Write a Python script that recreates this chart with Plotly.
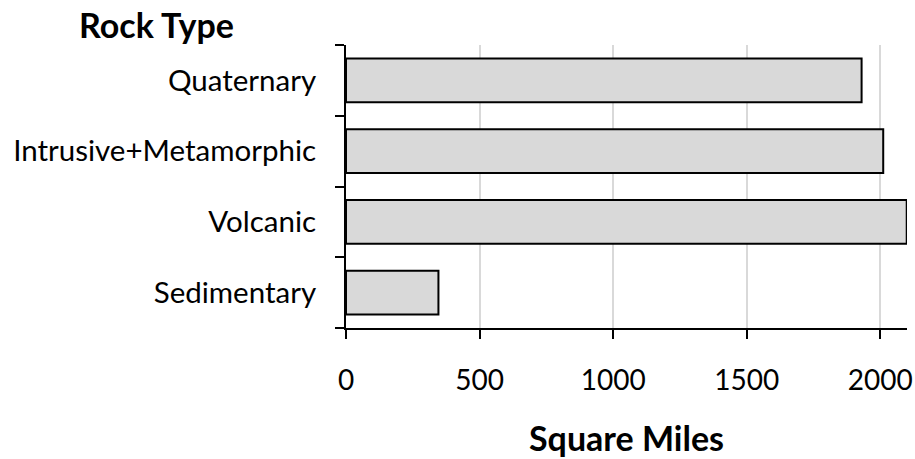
import plotly.graph_objects as go

categories = ["Sedimentary", "Volcanic", "Intrusive+Metamorphic", "Quaternary"]
square_miles = [346, 2099, 2011, 1930]
x_ticks = [0, 500, 1000, 1500, 2000]

FONT = "Lato"

W, H = 915, 459
L, R, T, B = 346, 8, 45, 131
plot_w = W - L - R
plot_h = H - T - B

fig = go.Figure()
fig.add_trace(go.Bar(
    x=square_miles, y=categories, orientation="h",
    marker=dict(color="#d9d9d9", line=dict(color="black", width=2)),
    width=0.62,
))

fig.update_layout(
    width=W, height=H,
    margin=dict(l=L, r=R, t=T, b=B, autoexpand=False),
    plot_bgcolor="white", paper_bgcolor="white",
    showlegend=False,
    font=dict(family=FONT, size=28, color="black"),
    xaxis=dict(
        range=[0, 2100], tickvals=x_ticks, ticktext=[str(v) for v in x_ticks],
        showgrid=True, gridcolor="#d9d9d9", gridwidth=1.5,
        showline=True, linecolor="black", linewidth=2,
        ticks="outside", ticklen=9, tickwidth=2, tickcolor="black",
        zeroline=False,
        ticklabelstandoff=17,
        tickfont=dict(size=28, family=FONT),
    ),
    yaxis=dict(
        categoryorder="array", categoryarray=categories,
        showline=True, linecolor="black", linewidth=2,
        ticks="outside", ticklen=9, tickwidth=2, tickcolor="black",
        tickson="boundaries", showgrid=False,
        ticklabelstandoff=22,
        tickfont=dict(size=29.5, family=FONT),
    ),
    annotations=[
        dict(text="<b>Rock Type</b>", xref="paper", yref="paper",
             x=(156 - L) / plot_w, y=1 + (T - 25) / plot_h,
             xanchor="center", yanchor="middle", showarrow=False,
             font=dict(size=34, family=FONT)),
        dict(text="<b>Square Miles</b>", xref="paper", yref="paper",
             x=0.5, y=-(437 - (T + plot_h)) / plot_h,
             xanchor="center", yanchor="middle", showarrow=False,
             font=dict(size=34, family=FONT)),
    ],
)

fig.write_html("out.html", config={"displayModeBar": False},
               post_script="document.body.style.margin='0';document.body.style.overflow='hidden';")
